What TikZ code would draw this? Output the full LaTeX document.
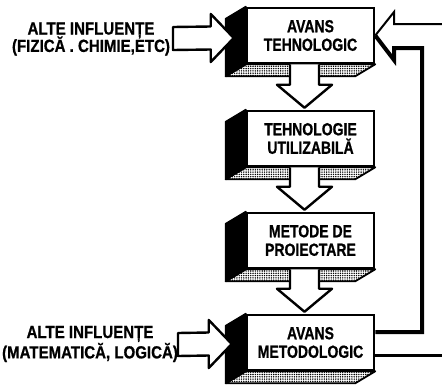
\documentclass[tikz,border=0pt]{standalone}
\usepackage{fontspec}
\setmainfont{Liberation Sans}
\newfontfamily\boxfont{Liberation Sans}[FakeStretch=0.8, BoldFeatures={FakeBold=0.8}]
\newfontfamily\labfont{Liberation Sans}[FakeStretch=0.86, BoldFeatures={FakeBold=0.8}]
\usetikzlibrary{calc,patterns.meta}

\tikzset{
  face/.style={draw, line width=2.5pt, fill=white, minimum width=127pt,
    minimum height=55pt, inner sep=0pt, align=center,
    font=\boxfont\bfseries\fontsize{17.5}{18.5}\selectfont},
  sideface/.style={draw, line width=1.8pt, fill=black, line join=round},
  floorface/.style={draw, line width=1.8pt, line join=round,
    pattern={Dots[distance=2.3pt,radius=0.8pt]}},
  hollow/.style={draw, line width=2.4pt, fill=white, line join=round},
  lab/.style={align=center, inner sep=0pt,
    font=\labfont\bfseries\fontsize{17.5}{18.5}\selectfont},
}

\begin{document}
\begin{tikzpicture}[x=1pt, y=-1pt]
\useasboundingbox (0,0) rectangle (442,386);

% the four stages, front faces
\node[face] (b1) at (310.5,35.5)  {AVANS\\TEHNOLOGIC};
\node[face] (b2) at (310.5,138.5) {TEHNOLOGIE\\UTILIZABILĂ};
\node[face] (b3) at (310.5,240.5) {METODE DE\\PROIECTARE};
\node[face] (b4) at (310.5,342.5) {AVANS\\METODOLOGIC};

% depth of each block: dark left side, dotted underside
\foreach \b in {b1,b2,b3,b4}{
  \path[sideface] (\b.north west) -- ++(-20,12)
      -- ($(\b.south west)+(-20,12)$) -- (\b.south west) -- cycle;
  \path[floorface] (\b.south west) -- (\b.south east) -- ++(-20,12)
      -- ($(\b.south west)+(-20,12)$) -- cycle;
}

% hollow arrows down the chain
\foreach \u/\v in {b1/b2,b2/b3,b3/b4}{
  \path[hollow] ([xshift=-20.5pt]\u.south)
    -- ([xshift=-20.5pt,yshift=25pt]\v.north)
    -- ([xshift=-33.5pt,yshift=25pt]\v.north)
    -- ([xshift=-6pt,yshift=2pt]\v.north)
    -- ([xshift=21.5pt,yshift=25pt]\v.north)
    -- ([xshift=8.5pt,yshift=25pt]\v.north)
    -- ([xshift=8.5pt]\u.south);
}

% outside influences
\node[lab] (l1) at (91,39) {ALTE INFLUENȚE\\[-3pt](FIZICĂ . CHIMIE,ETC)};
\node[lab] (l2) at (90,344) {ALTE INFLUENȚE\\(MATEMATICĂ, LOGICĂ)};

\coordinate (s1) at (173,38.5);
\coordinate (t1) at ([xshift=-12pt,yshift=-2.5pt]b1.west);
\coordinate (s2) at (178,344.5);
\coordinate (t2) at ([xshift=-14pt,yshift=-1.5pt]b4.west);

\foreach \s/\t in {s1/t1,s2/t2}{
  \path[hollow] ([yshift=11.5pt]\s) -- ([xshift=-23pt,yshift=11.5pt]\t)
    -- ([xshift=-23pt,yshift=24pt]\t) -- (\t)
    -- ([xshift=-23pt,yshift=-24pt]\t) -- ([xshift=-23pt,yshift=-11.5pt]\t)
    -- ([yshift=-11.5pt]\s) -- cycle;
}

% feedback from methodology back to technology
\coordinate (fb) at (422,48);
\draw[line width=4pt, line join=miter]
  ([yshift=10.5pt]b4.east) -| (fb) -- (394,48) -- (394,60) -- (b1.east);
\draw[line width=2pt, line join=miter]
  (b1.east) -- (394,12) -- (394,24) -- (446,24);
\draw[line width=3pt] ([yshift=-12.5pt]b4.east) -- (446,355);
\end{tikzpicture}
\end{document}
